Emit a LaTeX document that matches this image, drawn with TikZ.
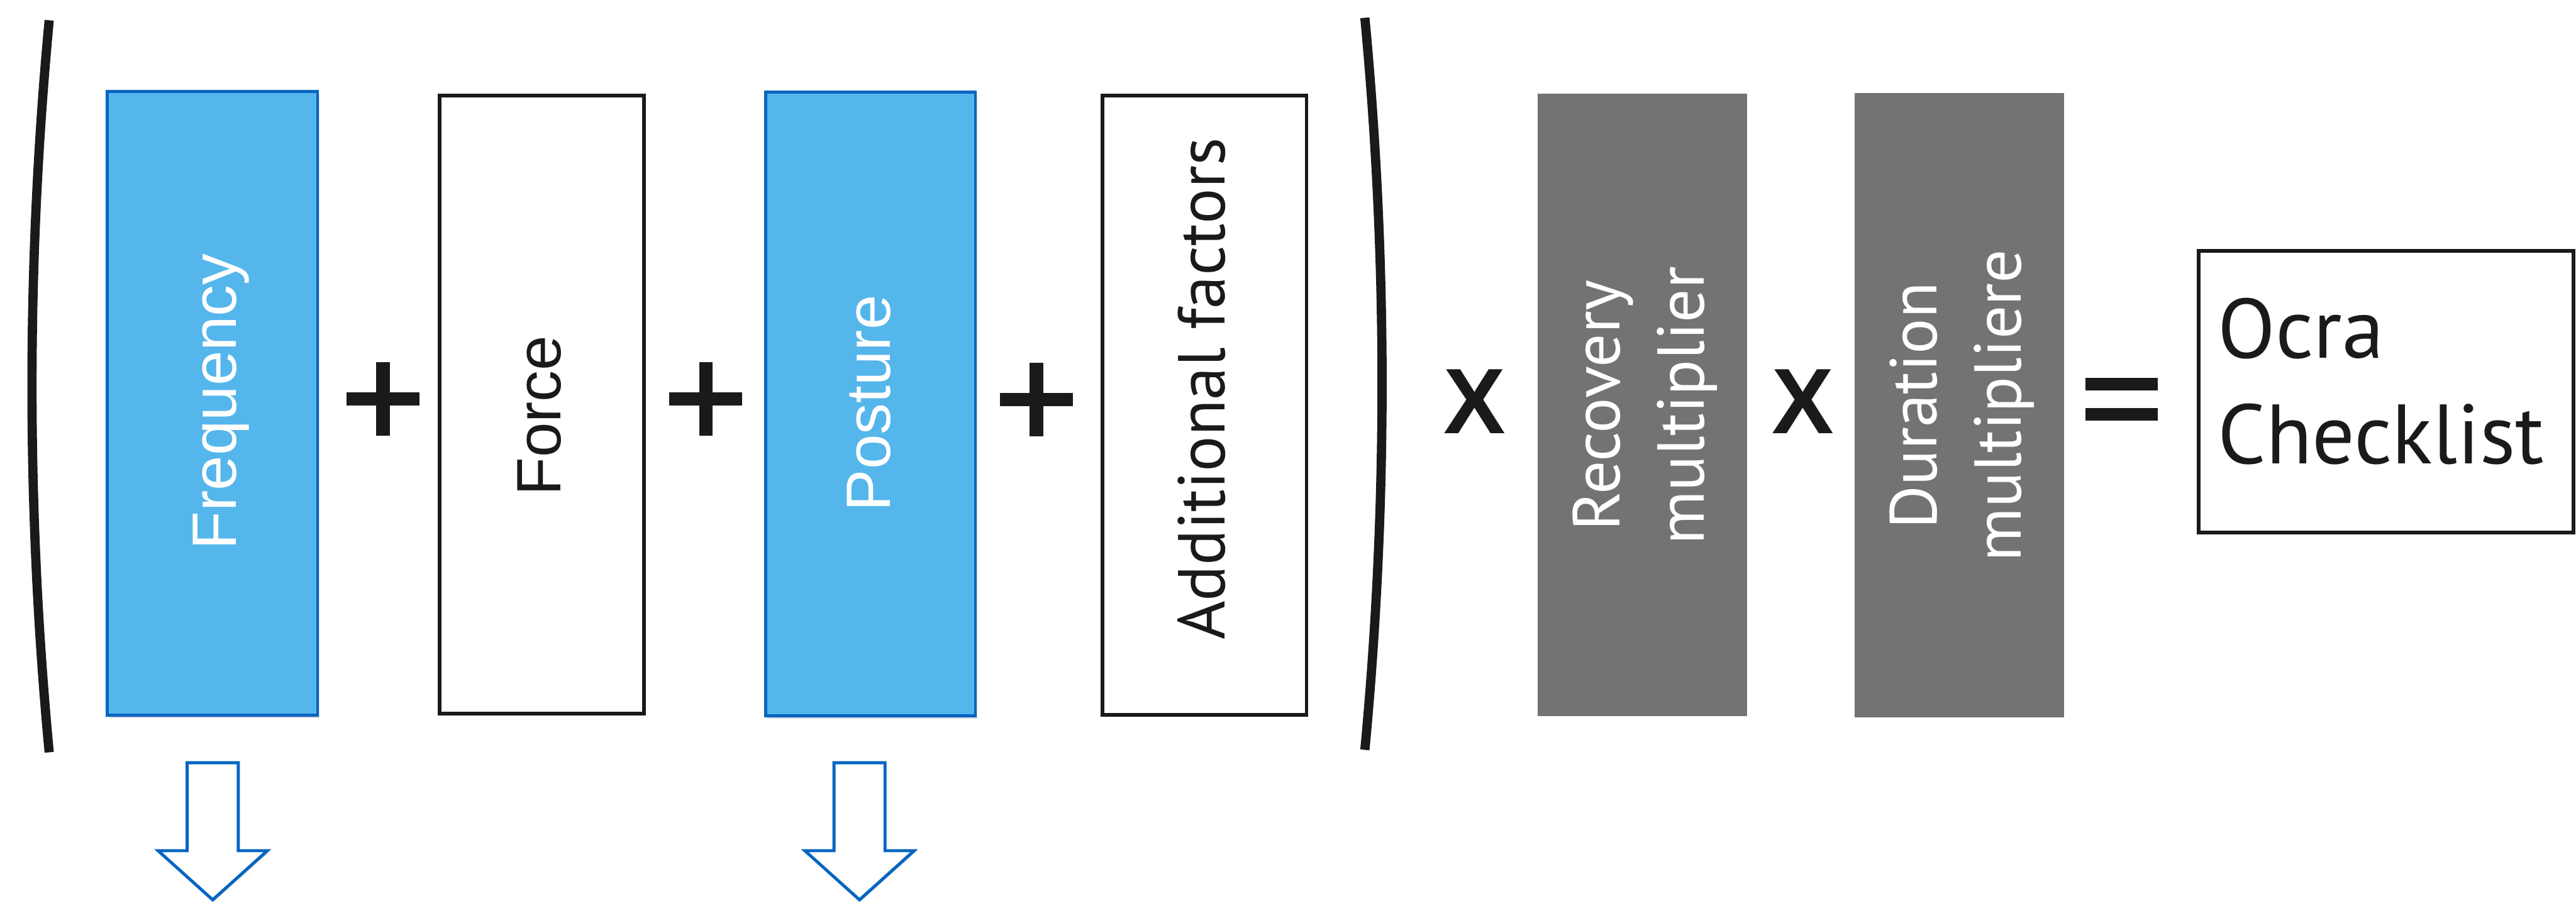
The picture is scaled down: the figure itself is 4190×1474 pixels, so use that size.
\documentclass[tikz,border=0pt]{standalone}
\usepackage{fontspec}
\setmainfont{Liberation Sans}
\newfontfamily\ptsans{PT Sans}
\usetikzlibrary{shadows}
\definecolor{fillblue}{RGB}{85,182,236}
\definecolor{lineblue}{RGB}{6,101,193}
\definecolor{boxgrey}{RGB}{115,115,115}
\definecolor{ink}{RGB}{26,26,26}
\newcommand{\plusat}[1]{\begin{scope}[shift={(#1)}]\fill[ink] (-59.5,-11) rectangle (59.5,11);\fill[ink] (-11,-60) rectangle (11,60);\end{scope}}
\newcommand{\hollowat}[1]{\begin{scope}[shift={(#1)}]\draw[hollow] (-41.5,0) -- (-41.5,143) -- (-89,143) -- (0,223) -- (89,143) -- (41.5,143) -- (41.5,0) -- cycle;\end{scope}}
\begin{document}
\begin{tikzpicture}[x=0.01cm,y=-0.01cm,
  box/.style={rectangle, inner sep=0pt, outer sep=0pt},
  bluebox/.style={box, fill=fillblue, draw=lineblue, line width=0.5mm, drop shadow={shadow xshift=0.3mm, shadow yshift=-0.4mm, opacity=0.3}},
  whitebox/.style={box, draw=ink, line width=0.6mm, fill=white},
  greybox/.style={box, fill=boxgrey},
  armlabel/.style={rotate=90, inner sep=0pt, font=\fontsize{29pt}{35pt}\selectfont},
  multlabel/.style={rotate=90, inner sep=0pt, align=center, text=white, font=\ptsans\fontsize{30.7pt}{39pt}\selectfont},
  opsign/.style={inner sep=0pt, text=ink, font=\bfseries\fontsize{43pt}{50pt}\selectfont},
  paren/.style={draw=ink, line width=1.5mm},
  hollow/.style={draw=lineblue, line width=0.5mm, fill=white, line join=miter, drop shadow={shadow xshift=0.2mm, shadow yshift=-0.3mm, opacity=0.25}}
]
\useasboundingbox (0,0) rectangle (4190,1474);
\fill[white] (0,0) rectangle (4190,1474);

% parentheses
\draw[paren] (80,33) .. controls (42.7,430) and (42.7,827) .. (80,1224);
\draw[paren] (2220,29) .. controls (2257.3,425) and (2257.3,824) .. (2220,1220);

% boxes
\node[bluebox, minimum width=3.42cm, minimum height=10.14cm] (freq) at (345.5,656.5) {};
\node[whitebox, minimum width=3.32cm, minimum height=10.05cm] (force) at (881,658.5) {};
\node[bluebox, minimum width=3.41cm, minimum height=10.14cm] (posture) at (1416,657.5) {};
\node[whitebox, minimum width=3.32cm, minimum height=10.07cm] (addf) at (1959,659.5) {};
\node[greybox, minimum width=3.41cm, minimum height=10.12cm] (recov) at (2671.5,659) {};
\node[greybox, minimum width=3.40cm, minimum height=10.15cm] (durat) at (3187,659.5) {};
\node[whitebox, minimum width=6.10cm, minimum height=4.58cm] (ocra) at (3881,637) {};

% labels
\node[armlabel, text=white] (freqlbl) at (359.5,653.5) {Frequency};
\node[armlabel, text=ink] (forcelbl) at (877,676.5) {Force};
\node[armlabel, text=white] (postlbl) at (1413.5,656) {Posture};
\node[multlabel, text=ink] (addlbl) at (1954,633) {Additional factors};
\node[multlabel] (reclbl) at (2676,660) {Recovery\\multiplier};
\node[multlabel] (durlbl) at (3191.5,660) {Duration\\multipliere};
\node[anchor=north west, inner sep=0pt, align=left, text=ink, font=\ptsans\fontsize{39pt}{48.9pt}\selectfont] (ocralbl) at (3607,484) {Ocra\\Checklist};

% operators
\coordinate (p1) at (623,649);
\coordinate (p2) at (1148,649);
\coordinate (p3) at (1686,650);
\plusat{p1}
\plusat{p2}
\plusat{p3}
\node[opsign] (times1) at (2399,653) {X};
\node[opsign] (times2) at (2933,653) {X};
\coordinate (eq) at (3451,650);
\begin{scope}[shift={(eq)}]
\fill[ink] (-59,-35) rectangle (59,-15);
\fill[ink] (-59,14) rectangle (59,34);
\end{scope}

% hollow arrows
\coordinate (fa) at (346,1241);
\coordinate (pa) at (1398,1241);
\hollowat{fa}
\hollowat{pa}
\end{tikzpicture}
\end{document}
